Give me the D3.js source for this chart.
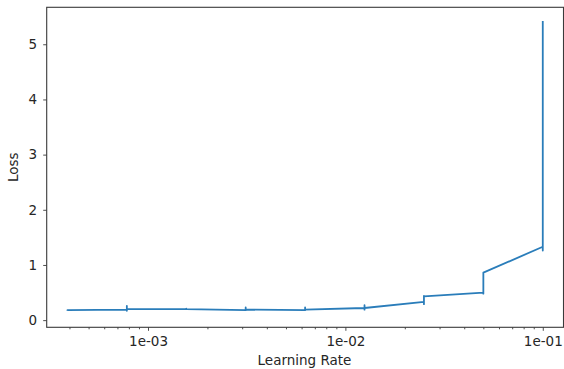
<!DOCTYPE html>
<html>
<head>
<meta charset="utf-8">
<script src="https://cdn.jsdelivr.net/npm/d3@7"></script>
<style>
  body { margin: 0; background: #fff; }
  svg { display: block; font-family: "DejaVu Sans", sans-serif; }
</style>
</head>
<body>
<svg id="chart" width="564" height="369"></svg>
<script>
// learning rate for each recorded step (several steps per lr)
const lrs = [
  0.000390625, 0.000390625,
  0.00078125, 0.00078125, 0.00078125, 0.00078125,
  0.0015625, 0.0015625, 0.0015625,
  0.003125, 0.003125, 0.003125,
  0.00625, 0.00625, 0.00625,
  0.0125, 0.0125, 0.0125, 0.0125,
  0.025, 0.025, 0.025, 0.025,
  0.05, 0.05, 0.05, 0.05,
  0.1, 0.1, 0.1, 0.1, 0.1, 0.1
];
const lossValues = [
  0.17, 0.18,
  0.19, 0.26, 0.17, 0.20,
  0.20, 0.21, 0.20,
  0.18, 0.23, 0.19,
  0.18, 0.23, 0.19,
  0.22, 0.27, 0.19, 0.22,
  0.33, 0.29, 0.44, 0.43,
  0.50, 0.48, 0.62, 0.86,
  1.33, 1.26, 1.87, 1.67, 2.5, 5.42
];
const yTicks = [0, 1, 2, 3, 4, 5];
const xTicks = [1e-3, 1e-2, 1e-1];
const xTickLabels = ["1e-03", "1e-02", "1e-01"];

const svg = d3.select("#chart");
const mLeft = 46.7, mRight = 563.5, mTop = 7.3, mBottom = 327.3;

const pad = Math.pow(10, 0.105);
const x = d3.scaleLog()
  .domain([d3.min(lrs) / pad, d3.max(lrs) * pad])
  .range([mLeft, mRight]);
const y = d3.scaleLinear()
  .domain([-0.13, 5.67])
  .range([mBottom, mTop]);

const data = lrs.map((lr, i) => ({ lr, loss: lossValues[i] }));

// minor ticks (2..9 of each decade)
const minor = [];
[1e-4, 1e-3, 1e-2].forEach(base => {
  for (let k = 2; k <= 9; k++) {
    const v = base * k;
    if (v > x.domain()[0] && v < x.domain()[1]) minor.push(v);
  }
});

const textColor = "#262626";
const spineColor = "#3a3a3a";

const gx = svg.append("g").attr("transform", `translate(0,${mBottom})`);
gx.call(d3.axisBottom(x).tickValues(minor).tickSize(2).tickFormat(""));
gx.append("g").call(d3.axisBottom(x).tickValues(xTicks).tickSize(3.5).tickPadding(6)
  .tickFormat((d, i) => xTickLabels[i]));
gx.selectAll(".domain").remove();
gx.selectAll("line").attr("stroke", spineColor).attr("stroke-width", 0.9);
gx.selectAll("text").attr("fill", textColor).style("font-size", "13.5px")
  .style("font-family", "DejaVu Sans, sans-serif");

const gy = svg.append("g").attr("transform", `translate(${mLeft},0)`);
gy.call(d3.axisLeft(y).tickValues(yTicks).tickSize(3.5).tickPadding(6).tickFormat(d3.format("d")));
gy.select(".domain").remove();
gy.selectAll("line").attr("stroke", spineColor).attr("stroke-width", 0.9);
gy.selectAll("text").attr("fill", textColor).style("font-size", "13.5px")
  .style("font-family", "DejaVu Sans, sans-serif");

// spines
svg.append("rect")
  .attr("x", mLeft).attr("y", mTop)
  .attr("width", mRight - mLeft).attr("height", mBottom - mTop)
  .attr("fill", "none").attr("stroke", spineColor).attr("stroke-width", 1.1);

// loss curve
const line = d3.line().x(d => x(d.lr)).y(d => y(d.loss));
svg.append("path")
  .datum(data)
  .attr("d", line)
  .attr("fill", "none")
  .attr("stroke", "#2a7dba")
  .attr("stroke-width", 1.8)
  .attr("stroke-linejoin", "round");

svg.append("text")
  .attr("x", 304.5)
  .attr("y", 365)
  .attr("text-anchor", "middle")
  .attr("fill", textColor)
  .style("font-size", "13.5px")
  .text("Learning Rate");

svg.append("text")
  .attr("transform", `translate(18,${(mTop + mBottom) / 2})rotate(-90)`)
  .attr("text-anchor", "middle")
  .attr("fill", textColor)
  .style("font-size", "13.5px")
  .text("Loss");
</script>
</body>
</html>
